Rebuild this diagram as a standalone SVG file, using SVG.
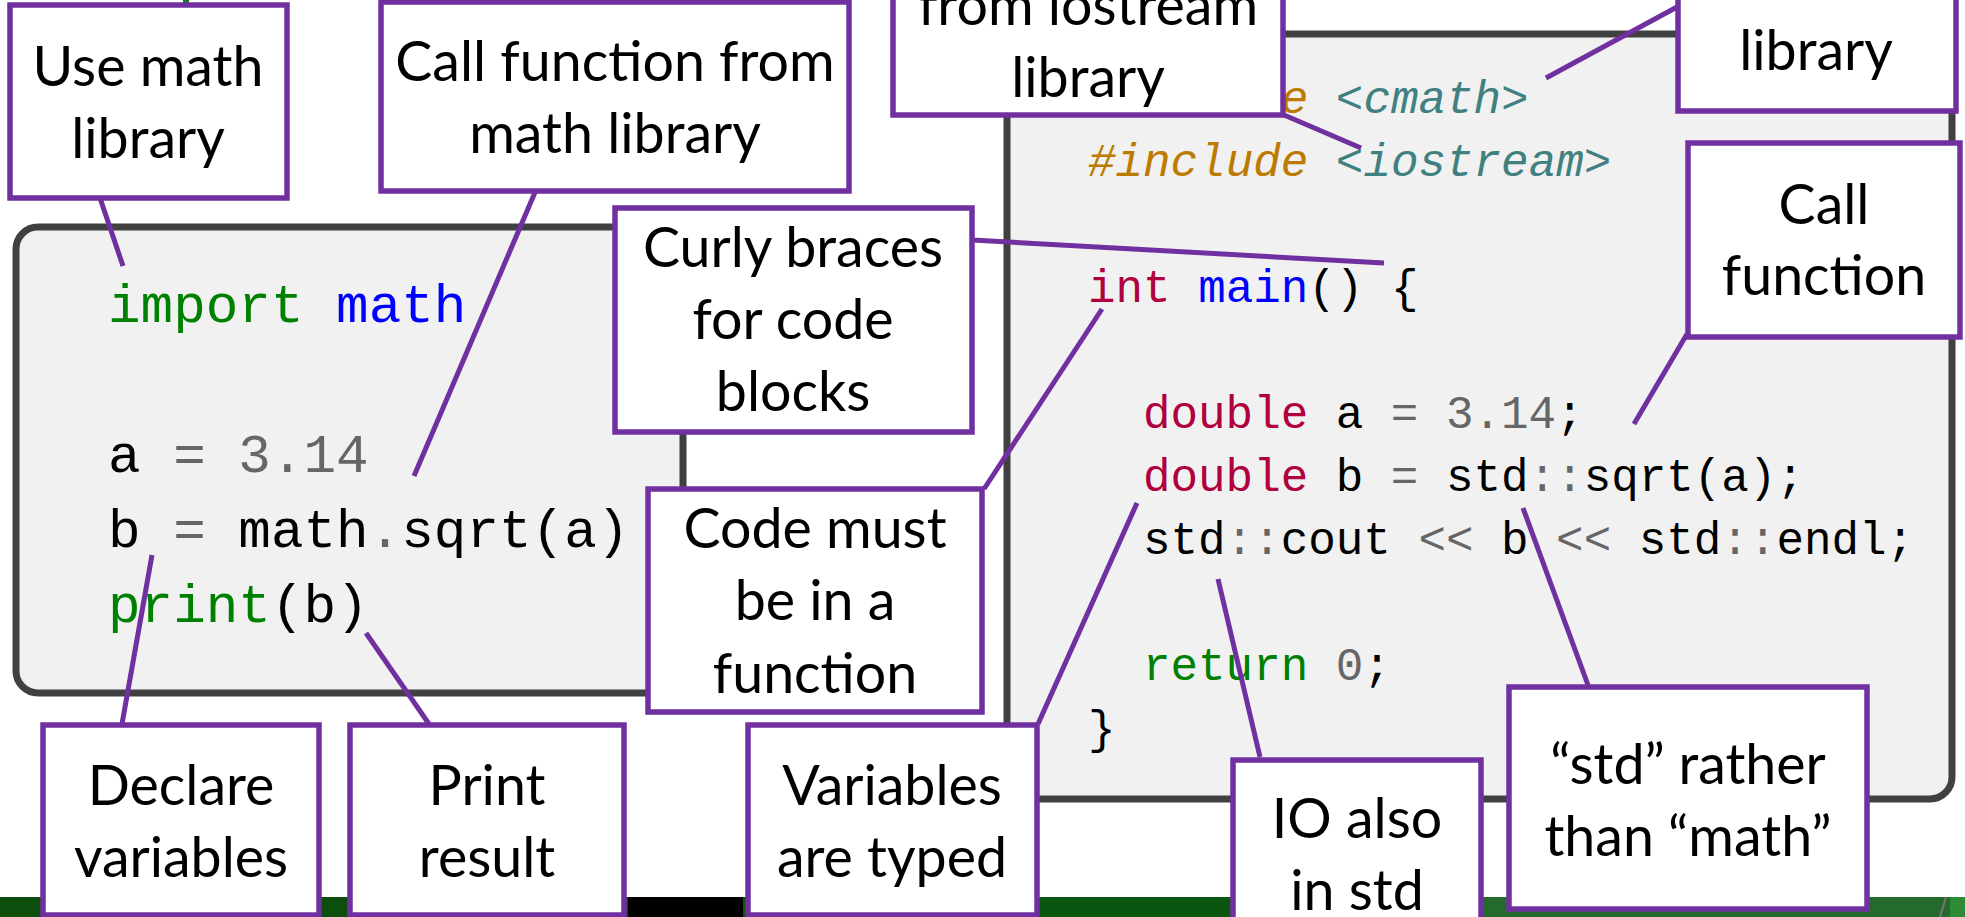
<svg xmlns="http://www.w3.org/2000/svg" width="1965" height="917" viewBox="0 0 1965 917">
  <style>
    .panel { fill: #f1f1f1; stroke: #404040; stroke-width: 7; }
    .box { fill: #ffffff; stroke: #7030a0; stroke-width: 5.5; }
    .link { stroke: #7030a0; stroke-width: 5; stroke-linecap: butt; fill: none; }
    .lbl { font-family: Lato, "Open Sans", sans-serif; font-size: 55.5px; text-anchor: middle; fill: #000; }
    .code { font-family: "Liberation Mono", "DejaVu Sans Mono", monospace; fill: #000; }
    .py { font-size: 54.3px; }
    .cpp { font-size: 45.9px; }
    .kw { fill: #008000; }
    .ns { fill: #0000ff; }
    .op { fill: #666666; }
    .num { fill: #666666; }
    .ty { fill: #b00040; }
    .pp { fill: #bc7a00; font-style: italic; }
    .inc { fill: #408080; font-style: italic; }
  </style>

  <!-- page background -->
  <rect x="0" y="0" width="1965" height="917" fill="#ffffff"/>
  <rect x="183" y="0" width="6" height="5" fill="#1a7a1a"/>
  <!-- footer strip -->
  <g id="footer">
    <rect x="0" y="897" width="630" height="20" fill="#0c4f0c"/>
    <rect x="628" y="897" width="116" height="20" fill="#000000"/>
    <rect x="743" y="897" width="490" height="20" fill="#0a5510"/>
    <rect x="1232" y="897" width="733" height="20" fill="#246a2c"/>
    <line x1="1946" y1="897" x2="1940" y2="917" stroke="#777777" stroke-width="2"/>
    <rect x="1950" y="897" width="15" height="20" fill="#2f8a36"/>
  </g>

  <!-- Python listing -->
  <g id="python-panel">
    <rect class="panel" x="16" y="227" width="667" height="466" rx="22" ry="22"/>
    <text class="code py" x="108" y="322" xml:space="preserve"><tspan class="kw">import</tspan> <tspan class="ns">math</tspan></text>
    <text class="code py" x="108" y="472" xml:space="preserve">a <tspan class="op">=</tspan> <tspan class="num">3.14</tspan></text>
    <text class="code py" x="108" y="547" xml:space="preserve">b <tspan class="op">=</tspan> math<tspan class="op">.</tspan>sqrt(a)</text>
    <text class="code py" x="108" y="622" xml:space="preserve"><tspan class="kw">print</tspan>(b)</text>
  </g>

  <!-- C++ listing -->
  <g id="cpp-panel">
    <rect class="panel" x="1007" y="34" width="945" height="765" rx="22" ry="22"/>
    <text class="code cpp" x="1088" y="113" xml:space="preserve"><tspan class="pp">#include</tspan> <tspan class="inc">&lt;cmath&gt;</tspan></text>
    <text class="code cpp" x="1088" y="176" xml:space="preserve"><tspan class="pp">#include</tspan> <tspan class="inc">&lt;iostream&gt;</tspan></text>
    <text class="code cpp" x="1088" y="302" xml:space="preserve"><tspan class="ty">int</tspan> <tspan class="ns">main</tspan>() {</text>
    <text class="code cpp" x="1143" y="428" xml:space="preserve"><tspan class="ty">double</tspan> a <tspan class="op">=</tspan> <tspan class="num">3.14</tspan>;</text>
    <text class="code cpp" x="1143" y="491" xml:space="preserve"><tspan class="ty">double</tspan> b <tspan class="op">=</tspan> std<tspan class="op">::</tspan>sqrt(a);</text>
    <text class="code cpp" x="1143" y="554" xml:space="preserve">std<tspan class="op">::</tspan>cout <tspan class="op">&lt;&lt;</tspan> b <tspan class="op">&lt;&lt;</tspan> std<tspan class="op">::</tspan>endl;</text>
    <text class="code cpp" x="1143" y="680" xml:space="preserve"><tspan class="kw">return</tspan> <tspan class="num">0</tspan>;</text>
    <text class="code cpp" x="1088" y="743" xml:space="preserve">}</text>
  </g>

  <!-- callout leaders -->
  <g id="connectors">
    <line class="link" x1="100" y1="198" x2="123" y2="266"/>
    <line class="link" x1="536" y1="190" x2="414" y2="476"/>
    <line class="link" x1="122" y1="724" x2="152" y2="555"/>
    <line class="link" x1="429" y1="724" x2="366" y2="633"/>
    <line class="link" x1="972" y1="240" x2="1384" y2="263"/>
    <line class="link" x1="984" y1="489" x2="1102" y2="309"/>
    <line class="link" x1="1038" y1="724" x2="1137" y2="503"/>
    <line class="link" x1="1260" y1="757" x2="1218" y2="579"/>
    <line class="link" x1="1588" y1="685" x2="1523" y2="508"/>
    <line class="link" x1="1687" y1="334" x2="1634" y2="424"/>
    <line class="link" x1="1677" y1="7" x2="1546" y2="78"/>
    <line class="link" x1="1284" y1="115" x2="1361" y2="148"/>
  </g>

  <!-- callout boxes -->
  <g id="use-math">
    <rect class="box" x="10" y="5" width="277" height="193"/>
    <text class="lbl" x="148" y="86">Use math</text>
    <text class="lbl" x="148" y="158">library</text>
  </g>
  <g id="call-math">
    <rect class="box" x="381" y="2" width="468" height="189"/>
    <text class="lbl" x="615" y="81">Call function from</text>
    <text class="lbl" x="615" y="153">math library</text>
  </g>
  <g id="iostream-lib">
    <rect class="box" x="893" y="-100" width="390" height="215"/>
    <text class="lbl" x="1088" y="25">from iostream</text>
    <text class="lbl" x="1088" y="97">library</text>
  </g>
  <g id="cmath-lib">
    <rect class="box" x="1678" y="-100" width="278" height="211"/>
    <text class="lbl" x="1816" y="70">library</text>
  </g>
  <g id="curly-braces">
    <rect class="box" x="615" y="208" width="357" height="224"/>
    <text class="lbl" x="793" y="267">Curly braces</text>
    <text class="lbl" x="793" y="339">for code</text>
    <text class="lbl" x="793" y="411">blocks</text>
  </g>
  <g id="call-function">
    <rect class="box" x="1688" y="143" width="272" height="194"/>
    <text class="lbl" x="1824" y="224">Call</text>
    <text class="lbl" x="1824" y="295">function</text>
  </g>
  <g id="in-function">
    <rect class="box" x="648" y="489" width="334" height="223"/>
    <text class="lbl" x="815" y="548">Code must</text>
    <text class="lbl" x="815" y="620">be in a</text>
    <text class="lbl" x="815" y="693">function</text>
  </g>
  <g id="declare">
    <rect class="box" x="43" y="725" width="276" height="190"/>
    <text class="lbl" x="181" y="805">Declare</text>
    <text class="lbl" x="181" y="877">variables</text>
  </g>
  <g id="print">
    <rect class="box" x="350" y="725" width="274" height="190"/>
    <text class="lbl" x="487" y="805">Print</text>
    <text class="lbl" x="487" y="877">result</text>
  </g>
  <g id="typed">
    <rect class="box" x="748" y="725" width="289" height="190"/>
    <text class="lbl" x="892" y="805">Variables</text>
    <text class="lbl" x="892" y="877">are typed</text>
  </g>
  <g id="io-std">
    <rect class="box" x="1233" y="760" width="248" height="200"/>
    <text class="lbl" x="1357" y="838">IO also</text>
    <text class="lbl" x="1357" y="910">in std</text>
  </g>
  <g id="std-math">
    <rect class="box" x="1509" y="687" width="358" height="222"/>
    <text class="lbl" x="1688" y="784">“std” rather</text>
    <text class="lbl" x="1688" y="856">than “math”</text>
  </g>
</svg>
